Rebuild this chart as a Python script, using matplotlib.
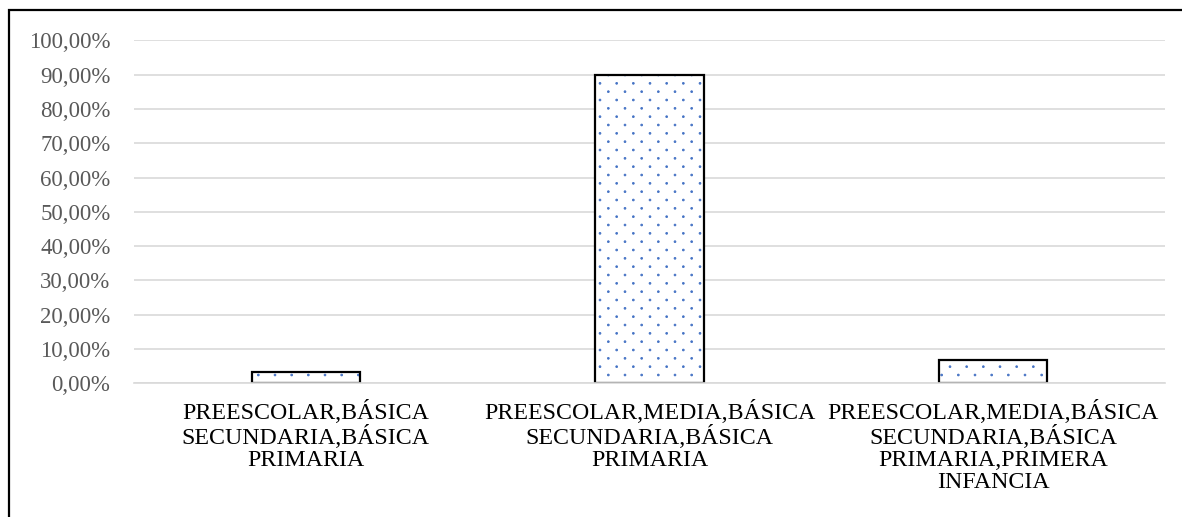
import numpy as np
import matplotlib
matplotlib.use("Agg")
import matplotlib.pyplot as plt
import matplotlib.hatch as mhatch
from matplotlib.path import Path
from matplotlib.patches import Rectangle

# === DATA ===
categories = [
    "PREESCOLAR,BÁSICA\nSECUNDARIA,BÁSICA\nPRIMARIA",
    "PREESCOLAR,MEDIA,BÁSICA\nSECUNDARIA,BÁSICA\nPRIMARIA",
    "PREESCOLAR,MEDIA,BÁSICA\nSECUNDARIA,BÁSICA\nPRIMARIA,PRIMERA\nINFANCIA",
]
percentages = [3.33, 90.0, 6.67]
y_ticks = [0, 10, 20, 30, 40, 50, 60, 70, 80, 90, 100]

W, H = 1182, 517


# Excel-like "5%" dot pattern: 6 columns, 12 staggered rows per hatch tile
class StaggeredDots(mhatch.HatchPatternBase):
    cols = 6
    rows = 12
    radius = 0.009

    def __init__(self, hatch, density):
        circle = Path.unit_circle()
        self.shape_vertices = circle.vertices
        self.shape_codes = circle.codes
        n = (self.rows + 1) * (self.cols + 1) if hatch.count(".") else 0
        self.num_vertices = n * len(circle.vertices)

    def set_vertices_and_codes(self, vertices, codes):
        verts, cds = [], []
        shape = self.shape_vertices * self.radius
        for r in range(self.rows + 1):
            shift = 0.0 if r % 2 == 0 else 0.5 / self.cols
            for c in range(self.cols + 1):
                verts.append(shape + [c / self.cols + shift, r / self.rows])
                cds.append(self.shape_codes)
        np.concatenate(verts, out=vertices)
        np.concatenate(cds, out=codes)


mhatch._hatch_types = [StaggeredDots if t is mhatch.SmallFilledCircles else t
                       for t in mhatch._hatch_types]

plt.rcParams["font.family"] = ["Liberation Serif", "DejaVu Serif"]
plt.rcParams["hatch.linewidth"] = 0.6

fig = plt.figure(figsize=(W / 100, H / 100), dpi=100)
ax = fig.add_axes([134 / W, 1 - 383.3 / H, (1165 - 134) / W, (383.3 - 40.3) / H])

x = np.arange(len(categories))
ax.bar(x, percentages, width=0.315, color="white", edgecolor="#4472C4",
       linewidth=0, hatch=".", zorder=2)
ax.bar(x, percentages, width=0.315, fill=False, edgecolor="black",
       linewidth=1.6, zorder=3)

ax.set_xlim(-0.5, len(categories) - 0.5)
ax.set_ylim(0, 100)
ax.set_yticks(y_ticks)
ax.set_yticklabels([f"{v:.2f}".replace(".", ",") + "%" for v in y_ticks],
                   fontsize=16.5, color="#595959")
ax.set_xticks(x)
ax.set_xticklabels(categories, fontsize=17.2, color="black", linespacing=1.05)
ax.tick_params(axis="both", length=0)
ax.tick_params(axis="y", pad=17)
ax.tick_params(axis="x", pad=12)

ax.grid(axis="y", color="#D9D9D9", linewidth=1.2, zorder=0)
ax.set_axisbelow(True)
for side in ["top", "right", "left"]:
    ax.spines[side].set_visible(False)
ax.spines["bottom"].set_color("#D9D9D9")
ax.spines["bottom"].set_linewidth(1.2)
ax.spines["bottom"].set_zorder(4)

# chart frame (only left and top edges fall inside the picture)
fig.patches.append(Rectangle((9 / W, -0.1), 1.2, 1.1 - 10 / H, transform=fig.transFigure,
                             fill=False, edgecolor="black", linewidth=1.6))

fig.savefig("out.png", dpi=100)
